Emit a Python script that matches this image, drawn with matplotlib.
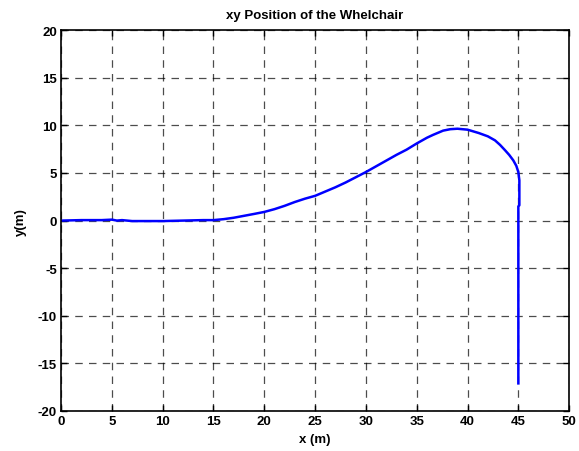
import matplotlib
matplotlib.use('Agg')
import matplotlib.pyplot as plt

# Wheelchair trajectory (m)
x_pos = [0, 2, 4, 5, 5.5, 6, 7, 8, 10, 12, 14, 15, 16, 17, 18, 19, 20, 21, 22, 23, 24, 25,
         26, 27, 28, 29, 30, 31, 32, 33, 34, 35, 36, 36.6, 37.6, 38.3, 39.0, 40.0, 41.1,
         42.0, 42.7, 43.2, 43.7, 44.1, 44.5, 44.8, 45.0, 45.1, 45.1, 45.0, 45.0]
y_pos = [0.0, 0.05, 0.05, 0.1, 0.0, 0.05, -0.05, -0.05, -0.05, 0.0, 0.05, 0.05, 0.15, 0.3,
         0.5, 0.7, 0.91, 1.2, 1.55, 1.95, 2.3, 2.6, 3.05, 3.5, 4.0, 4.55, 5.1, 5.7, 6.3,
         6.9, 7.45, 8.1, 8.7, 9.0, 9.45, 9.6, 9.65, 9.55, 9.2, 8.85, 8.43, 7.95, 7.38,
         6.9, 6.33, 5.75, 5.1, 4.23, 1.6, 1.5, -17.1]

x_ticks = list(range(0, 51, 5))
y_ticks = list(range(-20, 21, 5))

plt.rcParams['font.family'] = ['Liberation Sans', 'DejaVu Sans']
plt.rcParams['font.weight'] = 'bold'
plt.rcParams['axes.unicode_minus'] = False

fig = plt.figure(figsize=(5.79, 4.52), dpi=100)
ax = fig.add_axes([0.1054, 0.0885, 0.8776, 0.8425])
ax.plot(x_pos, y_pos, color='#0000ff', linewidth=1.8)

ax.set_xlim(0, 50)
ax.set_ylim(-20, 20)
ax.set_xticks(x_ticks)
ax.set_yticks(y_ticks)
ax.tick_params(direction='in', length=4, width=1, labelsize=9.5,
               top=True, right=True, pad=3)
for lbl in ax.get_xticklabels() + ax.get_yticklabels():
    lbl.set_fontweight('bold')
for sp in ax.spines.values():
    sp.set_linewidth(1.2)

ax.grid(True, color='black', linestyle=(0, (6, 5)), linewidth=0.9, alpha=0.7)

ax.set_title('xy Position of the Whelchair', fontsize=9.5, fontweight='bold', pad=9)
ax.set_xlabel('x (m)', fontsize=9.5, fontweight='bold', labelpad=4)
ax.set_ylabel('y(m)', fontsize=9.5, fontweight='bold', labelpad=8)

fig.savefig('out.png', dpi=100)
